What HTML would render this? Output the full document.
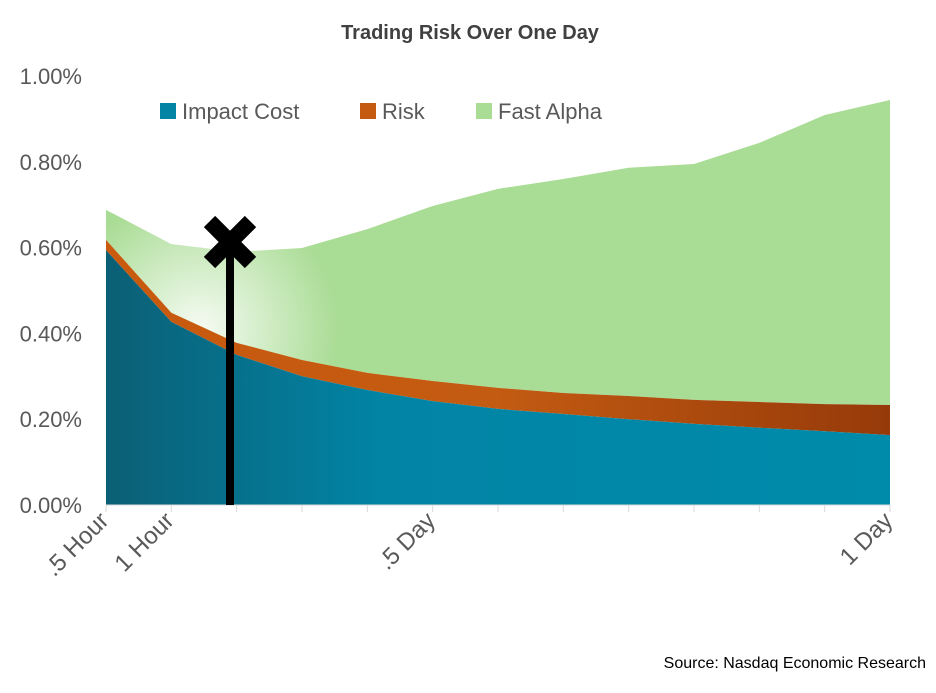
<!DOCTYPE html>
<html><head><meta charset="utf-8"><style>
body{margin:0;background:#fff;width:936px;height:688px;overflow:hidden;font-family:"Liberation Sans",sans-serif}
</style></head><body>
<svg width="936" height="688">
<defs>
<linearGradient id="gBlue" x1="0" x2="1" y1="0" y2="0"><stop offset="0" stop-color="#0b5f75"/><stop offset="0.35" stop-color="#0284a5"/><stop offset="1" stop-color="#008bab"/></linearGradient>
<linearGradient id="gRisk" x1="0" x2="1"><stop offset="0" stop-color="#c95a0e"/><stop offset="0.5" stop-color="#c35b12"/><stop offset="1" stop-color="#963a0a"/></linearGradient>
<radialGradient id="gFade" cx="200" cy="330" r="140" gradientUnits="userSpaceOnUse"><stop offset="0" stop-color="#fff" stop-opacity="0.9"/><stop offset="1" stop-color="#fff" stop-opacity="0"/></radialGradient>
</defs>
<text x="470" y="39" text-anchor="middle" font-size="20" font-weight="bold" fill="#404040">Trading Risk Over One Day</text>
<g id="areas"></g>
<g id="yaxis"></g>
<g id="xaxis"></g>
<g>
<rect x="160" y="103" width="16" height="16" fill="#0284a5"/>
<text x="182" y="119" font-size="22" fill="#595959">Impact Cost</text>
<rect x="360" y="103" width="16" height="16" fill="#c55a11"/>
<text x="382" y="119" font-size="22" fill="#595959">Risk</text>
<rect x="476" y="103" width="16" height="16" fill="#a9dc94"/>
<text x="498" y="119" font-size="22" fill="#595959">Fast Alpha</text>
</g>
<g>
<rect x="226" y="240" width="8" height="265" fill="#000"/>
<g transform="translate(230,242) rotate(45)">
<rect x="-29" y="-8" width="58" height="16" fill="#000"/><rect x="-8" y="-29" width="16" height="58" fill="#000"/></g>
</g>
<text x="926" y="668" text-anchor="end" font-size="16" fill="#000">Source: Nasdaq Economic Research</text>
</svg>
<script>
const impact=[0.594,0.427,0.350,0.300,0.268,0.242,0.224,0.212,0.200,0.189,0.180,0.172,0.163];
const risk=[0.024,0.021,0.028,0.038,0.040,0.047,0.049,0.049,0.054,0.056,0.060,0.063,0.070];
const alpha=[0.070,0.160,0.212,0.261,0.335,0.408,0.464,0.499,0.532,0.550,0.604,0.674,0.711];
const yTicks=[0,0.2,0.4,0.6,0.8,1.0];
const xLabels=[".5 Hour","1 Hour","","","",".5 Day","","","","","","","1 Day"];
const NS="http://www.w3.org/2000/svg";
const x=i=>106+i*(784/(impact.length-1));
const y=v=>505-v*429;
function mk(t,a,parent){const e=document.createElementNS(NS,t);for(const k in a)e.setAttribute(k,a[k]);parent.appendChild(e);return e;}
const areas=document.getElementById('areas');
const c1=impact.map(v=>v), c2=impact.map((v,i)=>v+risk[i]), c3=c2.map((v,i)=>v+alpha[i]);
function band(lo,hi){let d='';hi.forEach((v,i)=>d+=(i?'L':'M')+x(i)+','+y(v));for(let i=lo.length-1;i>=0;i--)d+='L'+x(i)+','+y(lo[i]);return d+'Z';}
const zero=impact.map(()=>0);
let p=mk('path',{d:band(c2,c3),fill:'#a9dc94'},areas);

p=mk('path',{d:band(c2,c3),fill:'url(#gFade)'},areas);

p=mk('path',{d:band(c1,c2),fill:'url(#gRisk)'},areas);

p=mk('path',{d:band(zero,c1),fill:'url(#gBlue)'},areas);

const ya=document.getElementById('yaxis');
yTicks.forEach(v=>{const t=mk('text',{x:82,y:y(v)+8,'text-anchor':'end','font-size':22,fill:'#595959'},ya);t.textContent=v.toFixed(2)+'%';
});
const xa=document.getElementById('xaxis');
let l=mk('line',{x1:106,x2:890,y1:505,y2:505,stroke:'#d9d9d9','stroke-width':1},xa);

xLabels.forEach((s,i)=>{const tk=mk('line',{x1:x(i),x2:x(i),y1:505,y2:512,stroke:'#d9d9d9'},xa);

if(s){const t=mk('text',{x:x(i)+4,y:522,'text-anchor':'end','font-size':24,fill:'#595959',transform:`rotate(-45 ${x(i)+4} 522)`},xa);t.textContent=s;
}});
</script>
</body></html>
